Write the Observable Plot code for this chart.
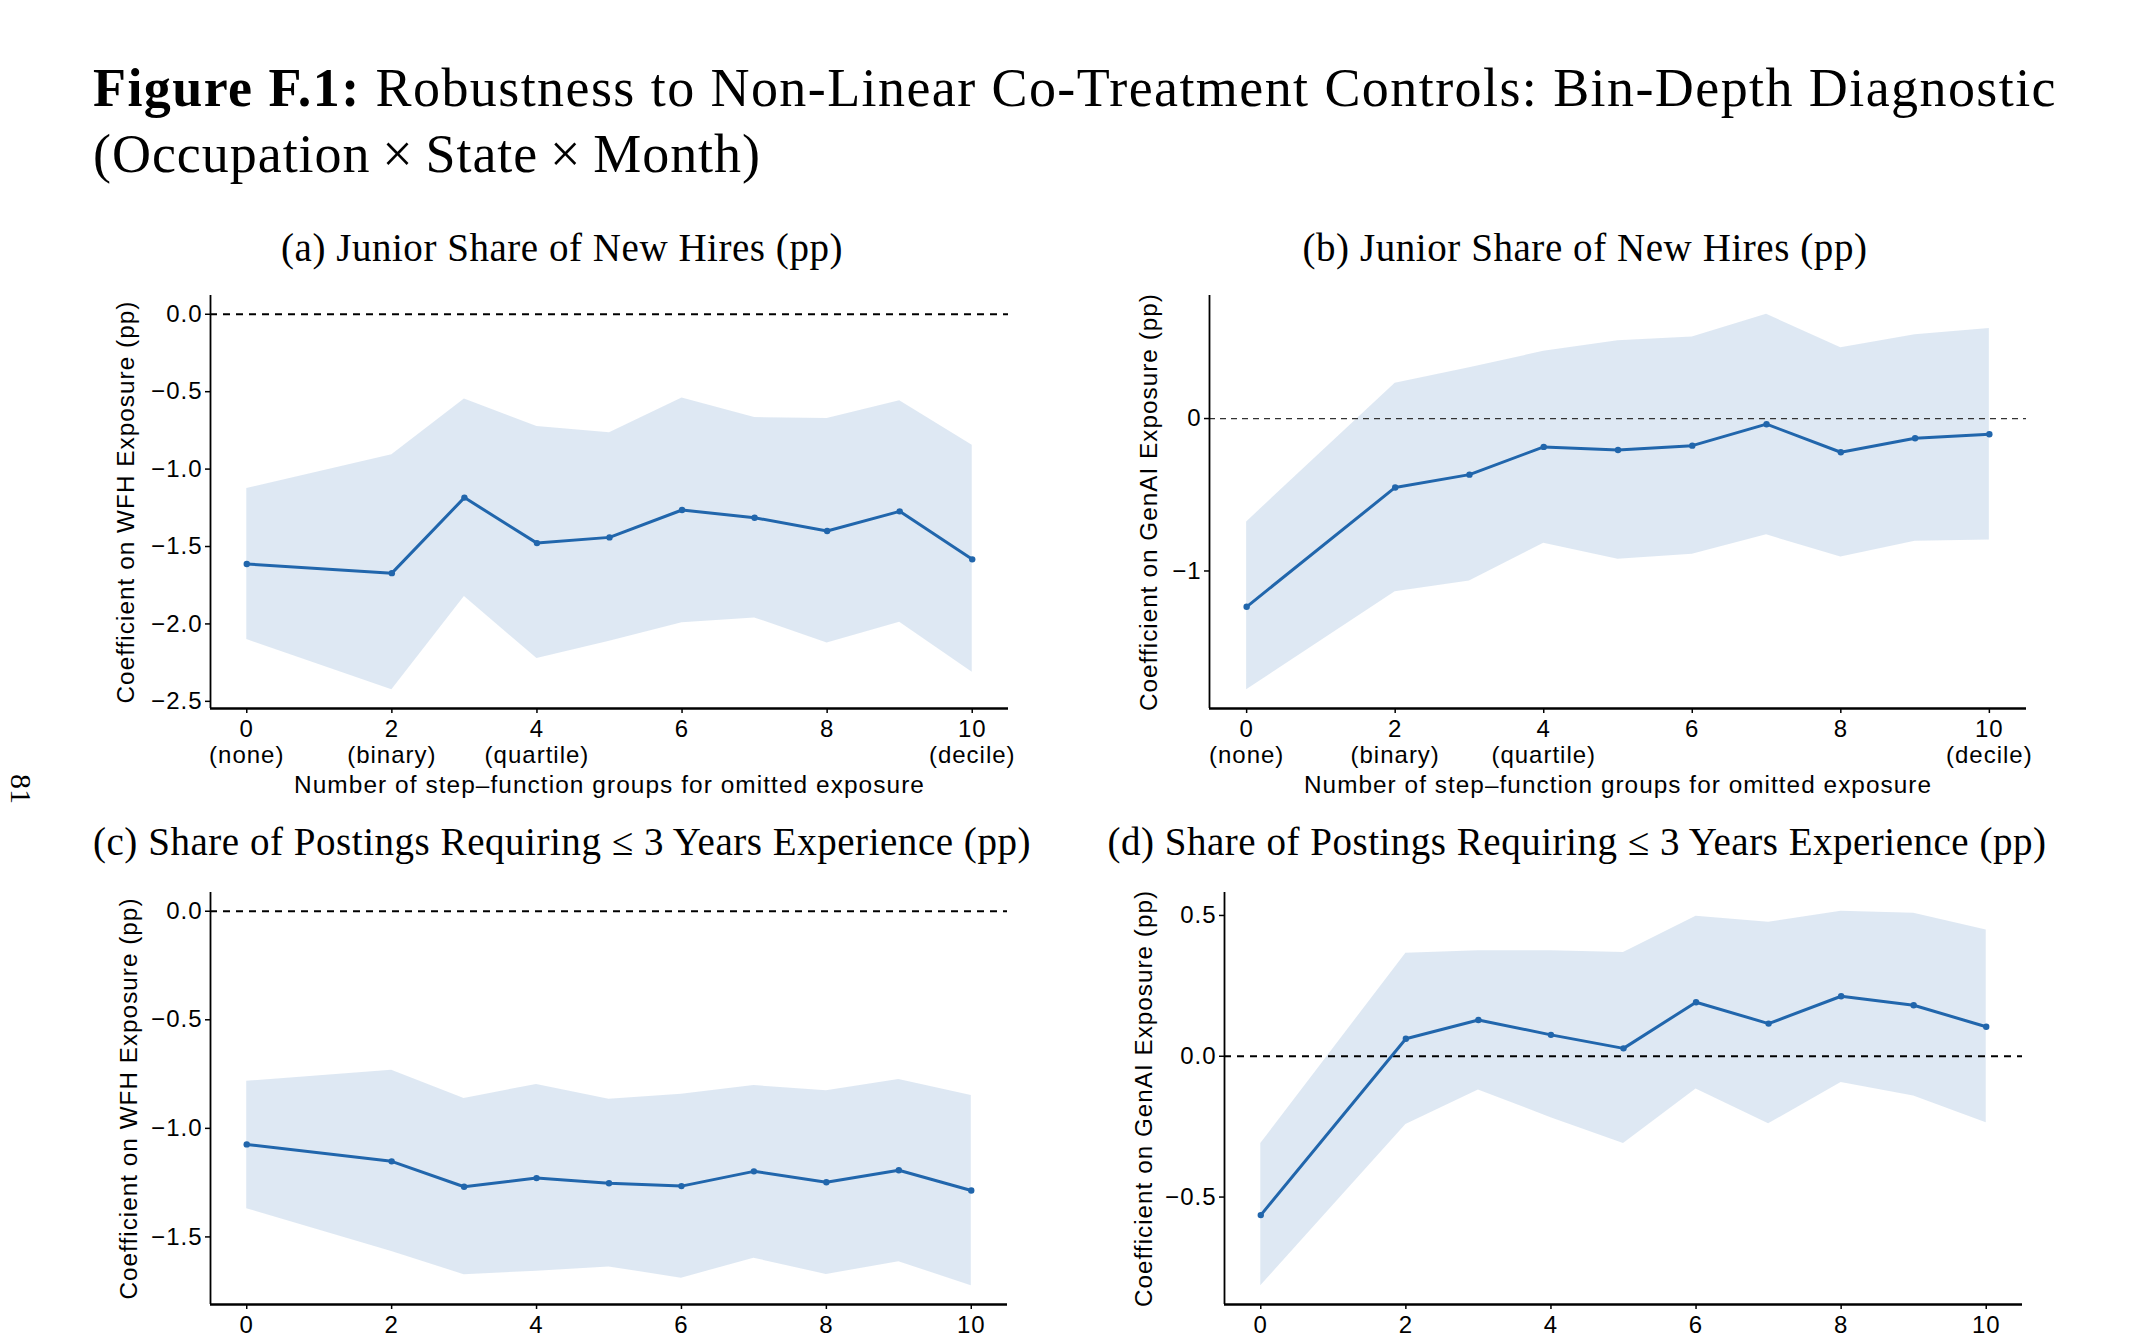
<!DOCTYPE html>
<html>
<head>
<meta charset="utf-8">
<script src="https://cdn.jsdelivr.net/npm/d3@7"></script>
<script src="https://cdn.jsdelivr.net/npm/@observablehq/plot@0.6"></script>
<style>
  html, body { margin: 0; padding: 0; background: #fff; }
  body { width: 2150px; height: 1340px; overflow: hidden; position: relative; }
  .serif { font-family: "Liberation Serif", "DejaVu Serif", serif; color: #000; white-space: nowrap; }
  .abs { position: absolute; }
  .fit { display: inline-block; white-space: nowrap; }
  .ptitle { position: absolute; width: 1200px; text-align: center; font-size: 39px; line-height: 39px; }
  .panel { position: absolute; }
</style>
</head>
<body>
<div id="pagenum" class="serif abs" style="left:6px; top:774px; font-size:30px; line-height:30px; transform: rotate(90deg); transform-origin: 15px 15px;">81</div>

<div class="serif abs" style="left:93px; top:55px; font-size:54px; line-height:66px;">
  <div><span id="t1" class="fit"><b>Figure F.1:</b> Robustness to Non-Linear Co-Treatment Controls: Bin-Depth Diagnostic</span></div>
  <div><span id="t2" class="fit">(Occupation&#8201;×&#8201;State&#8201;×&#8201;Month)</span></div>
</div>

<div class="serif ptitle" style="left:-38px; top:228px;"><span id="pa" class="fit">(a) Junior Share of New Hires (pp)</span></div>
<div class="serif ptitle" style="left:985px; top:228px;"><span id="pb" class="fit">(b) Junior Share of New Hires (pp)</span></div>
<div class="serif ptitle" style="left:-38px; top:822px;"><span id="pc" class="fit">(c) Share of Postings Requiring ≤ 3 Years Experience (pp)</span></div>
<div class="serif ptitle" style="left:977px; top:822px;"><span id="pd" class="fit">(d) Share of Postings Requiring ≤ 3 Years Experience (pp)</span></div>

<div id="panelA" class="panel"></div>
<div id="panelB" class="panel"></div>
<div id="panelC" class="panel"></div>
<div id="panelD" class="panel"></div>

<script>
// ---------------- data ----------------
const groups = [0, 2, 3, 4, 5, 6, 7, 8, 9, 10];
const xTickValues = [0, 2, 4, 6, 8, 10];
const xTickNotes = {0: "(none)", 2: "(binary)", 4: "(quartile)", 10: "(decile)"};
const xLabel = "Number of step\u2013function groups for omitted exposure";

// (a) Junior share, WFH
const estA = [-1.613, -1.672, -1.184, -1.478, -1.441, -1.264, -1.314, -1.400, -1.273, -1.583];
const hiA  = [-1.126, -0.908, -0.548, -0.725, -0.766, -0.541, -0.667, -0.673, -0.559, -0.846];
const loA  = [-2.101, -2.425, -1.823, -2.224, -2.112, -1.993, -1.961, -2.123, -1.989, -2.312];
const yTicksA = [0, -0.5, -1, -1.5, -2, -2.5];
const yLabelA = "Coefficient on WFH Exposure (pp)";

// (b) Junior share, GenAI
const estB = [-1.235, -0.452, -0.368, -0.186, -0.206, -0.178, -0.037, -0.221, -0.129, -0.103];
const hiB  = [-0.678, 0.232, 0.333, 0.441, 0.511, 0.535, 0.684, 0.465, 0.550, 0.590];
const loB  = [-1.779, -1.136, -1.066, -0.818, -0.923, -0.890, -0.763, -0.908, -0.805, -0.796];
const yTicksB = [0, -1];
const yLabelB = "Coefficient on GenAI Exposure (pp)";

// (c) Postings <= 3 yrs, WFH
const estC = [-1.074, -1.152, -1.269, -1.229, -1.253, -1.266, -1.198, -1.248, -1.193, -1.286];
const hiC  = [-0.783, -0.732, -0.862, -0.798, -0.866, -0.843, -0.803, -0.827, -0.775, -0.849];
const loC  = [-1.370, -1.567, -1.674, -1.658, -1.638, -1.690, -1.598, -1.673, -1.614, -1.725];
const yTicksC = [0, -0.5, -1, -1.5];
const yLabelC = "Coefficient on WFH Exposure (pp)";

// (d) Postings <= 3 yrs, GenAI
const estD = [-0.564, 0.062, 0.129, 0.076, 0.028, 0.192, 0.116, 0.213, 0.181, 0.105];
const hiD  = [-0.310, 0.366, 0.375, 0.375, 0.368, 0.497, 0.476, 0.515, 0.508, 0.448];
const loD  = [-0.815, -0.242, -0.120, -0.218, -0.310, -0.116, -0.240, -0.093, -0.141, -0.236];
const yTicksD = [0.5, 0, -0.5];
const yLabelD = "Coefficient on GenAI Exposure (pp)";

// ---------------- drawing ----------------
const BLUE = "#2166ac";
const ML = 140, MT = 20, MR = 30, MB = 110;

function drawPanel(cfg) {
  const rows = groups.map((g, i) => ({g, est: cfg.est[i], lo: cfg.lo[i], hi: cfg.hi[i]}));
  const all = [...cfg.lo, ...cfg.hi, ...cfg.est, 0];
  const mn = d3.min(all), mx = d3.max(all), pad = (mx - mn) * 0.05;
  const yDom = [mn - pad, mx + pad];
  const xDom = [-0.5, 10.5];
  const marks = [
    Plot.areaY(rows, {x: "g", y1: "lo", y2: "hi", fill: BLUE, fillOpacity: 0.15}),
    Plot.ruleY([0], {stroke: cfg.zeroColor, strokeWidth: cfg.zeroW, strokeDasharray: cfg.dash}),
    Plot.lineY(rows, {x: "g", y: "est", stroke: BLUE, strokeWidth: 3}),
    Plot.dot(rows, {x: "g", y: "est", r: 3.2, fill: BLUE}),
    Plot.ruleX([xDom[0]], {stroke: "#000", strokeWidth: 1.8}),
    Plot.ruleY([yDom[0]], {stroke: "#000", strokeWidth: 2.6}),
    Plot.axisY(cfg.yTicks, {tickSize: 5, tickPadding: 3, strokeWidth: 1.5, fontSize: 24, tickFormat: cfg.yFmt, label: null}),
    Plot.axisX(xTickValues, {tickSize: 5, tickPadding: 5, strokeWidth: 1.5, fontSize: 24, lineHeight: 1.08,
      tickFormat: d => (cfg.notes && xTickNotes[d]) ? `${d}\n${xTickNotes[d]}` : `${d}`, label: null}),
    Plot.text([cfg.yLabel], {frameAnchor: "left", textAnchor: "middle", lineAnchor: "top", rotate: -90, dx: -cfg.yOff, fontSize: 23})
  ];
  if (cfg.xTitle) {
    marks.push(Plot.text([xLabel], {frameAnchor: "bottom", textAnchor: "middle", lineAnchor: "top", dy: 68, fontSize: 23}));
  }
  const chart = Plot.plot({
    width: ML + cfg.w + MR,
    height: MT + cfg.h + MB,
    marginLeft: ML, marginTop: MT, marginRight: MR, marginBottom: MB,
    x: {domain: xDom, label: null},
    y: {domain: yDom, label: null},
    style: {fontFamily: "'Liberation Sans', Arial, sans-serif", fontSize: "24px", letterSpacing: "1px", color: "#000", background: "transparent", overflow: "visible"},
    marks
  });
  const host = document.getElementById(cfg.id);
  host.style.left = (cfg.left - ML) + "px";
  host.style.top = (cfg.top - MT) + "px";
  host.appendChild(chart);
  // stretch the axis titles to the reference widths
  chart.querySelectorAll("text").forEach(t => {
    if (t.textContent === cfg.yLabel) {
      t.setAttribute("textLength", cfg.yLen);
      t.setAttribute("lengthAdjust", "spacingAndGlyphs");
    } else if (t.textContent === xLabel) {
      t.setAttribute("textLength", cfg.xLen);
      t.setAttribute("lengthAdjust", "spacingAndGlyphs");
    }
  });
}

const f1 = d3.format(".1f");
const f0 = d3.format("d");

drawPanel({id: "panelA", left: 210, top: 295, w: 798, h: 413, est: estA, lo: loA, hi: hiA, notes: true, xTitle: true,
  yTicks: yTicksA, yFmt: f1, yLabel: yLabelA, yOff: 93, yLen: 403, xLen: 631, zeroColor: "#000", zeroW: 2, dash: "7,6"});
drawPanel({id: "panelB", left: 1209, top: 295, w: 817, h: 413, est: estB, lo: loB, hi: hiB, notes: true, xTitle: true,
  yTicks: yTicksB, yFmt: f0, yLabel: yLabelB, yOff: 69, yLen: 418, xLen: 628, zeroColor: "#333", zeroW: 1.2, dash: "6,5"});
drawPanel({id: "panelC", left: 210, top: 892, w: 797, h: 412, est: estC, lo: loC, hi: hiC, notes: false, xTitle: false,
  yTicks: yTicksC, yFmt: f1, yLabel: yLabelC, yOff: 90, yLen: 402, xLen: 631, zeroColor: "#000", zeroW: 2, dash: "7,6"});
drawPanel({id: "panelD", left: 1224, top: 892, w: 798, h: 412, est: estD, lo: loD, hi: hiD, notes: false, xTitle: false,
  yTicks: yTicksD, yFmt: f1, yLabel: yLabelD, yOff: 89, yLen: 417, xLen: 628, zeroColor: "#000", zeroW: 2, dash: "7,6"});

// fit text widths to the reference's measured widths via letter spacing
function fitWidth(id, target) {
  const el = document.getElementById(id);
  el.style.letterSpacing = "0px";
  const w = el.getBoundingClientRect().width;
  const n = el.textContent.length;
  el.style.letterSpacing = Math.max(-3, Math.min(3, (target - w) / n)) + "px";
}
function fitAll() {
  fitWidth("t1", 1964);
  fitWidth("t2", 668);
  fitWidth("pa", 562);
  fitWidth("pb", 565);
  fitWidth("pc", 938);
  fitWidth("pd", 939);
}
fitAll();
if (document.fonts && document.fonts.ready) document.fonts.ready.then(fitAll);
</script>
</body>
</html>
